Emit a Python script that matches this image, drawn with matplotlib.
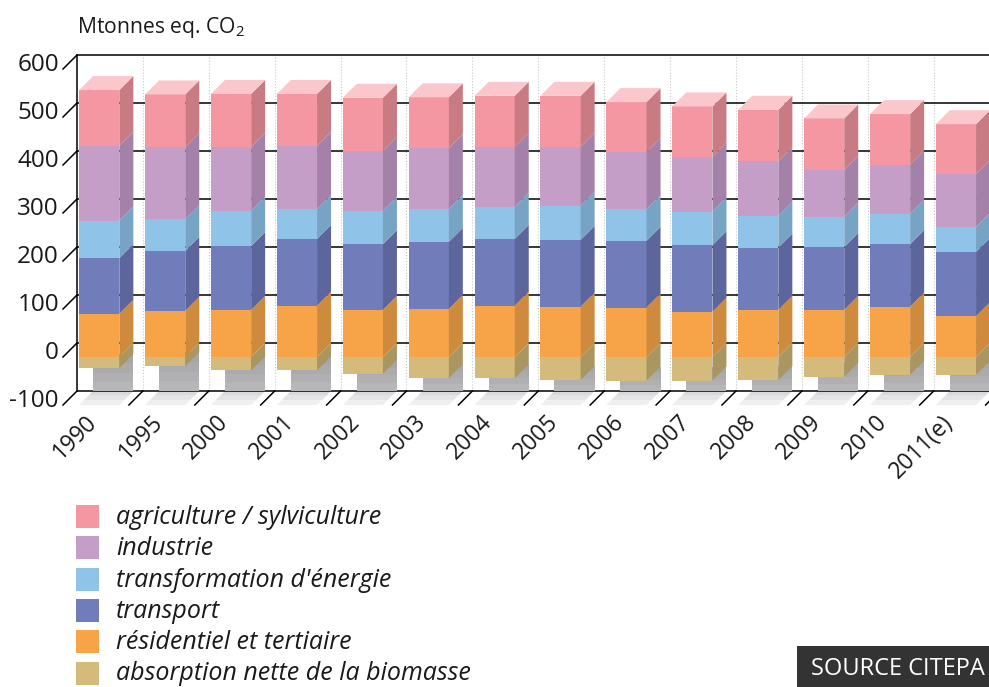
import numpy as np
import matplotlib.pyplot as plt
from matplotlib import transforms

plt.rcParams['font.family'] = ['Open Sans', 'DejaVu Sans']
plt.rcParams['mathtext.fontset'] = 'custom'
plt.rcParams['mathtext.rm'] = 'Open Sans'
plt.rcParams['mathtext.it'] = 'Open Sans:italic'

# Emissions par secteur, Mt eq. CO2
annees = ['1990', '1995', '2000', '2001', '2002', '2003', '2004',
          '2005', '2006', '2007', '2008', '2009', '2010', '2011(e)']
biomasse = [-23, -19, -28, -28, -35, -44, -44, -48, -49, -49, -48, -41, -37, -37]
residentiel = [90, 96, 98, 107, 98, 100, 107, 105, 103, 94, 98, 98, 105, 85]
transport = [116, 125, 133, 139, 137, 140, 139, 139, 139, 139, 130, 131, 130, 134]
energie = [78, 66, 74, 62, 70, 68, 67, 71, 66, 70, 66, 63, 63, 52]
industrie = [156, 150, 133, 132, 125, 127, 125, 123, 119, 114, 114, 98, 103, 110]
agriculture = [116, 110, 110, 108, 110, 106, 106, 106, 104, 105, 107, 107, 105, 104]

noms = ['agriculture / sylviculture', 'industrie', "transformation d'énergie",
        'transport', 'résidentiel et tertiaire', 'absorption nette de la biomasse']
yticks = [-100, 0, 100, 200, 300, 400, 500, 600]

# couleurs face avant / face laterale
c_face = ['#F597A2', '#C59EC8', '#8FC4E8', '#717DBA', '#F7A448', '#D4BA7B']
c_cote = ['#C97B84', '#A481A8', '#77A3C4', '#5D669C', '#CE8A3D', '#A99660']
c_dessus = '#F9C7CC'
noir = '#1A1A1A'

W, H = 989, 687
fig = plt.figure(figsize=(W / 100, H / 100), dpi=100)
ax_w, ax_h = 922.6, 336.0
ax = fig.add_axes([63 / W, (H - 405) / H, ax_w / W, ax_h / H])
ax.set_xlim(-0.5, 13.5)
ax.set_ylim(-100, 600)
ax.axis('off')

n = len(annees)
prof = 14.0  # profondeur en pixels
DX = prof / (ax_w / n)
DY = prof / (ax_h / 700.0)
x = np.arange(n) + 0.05
bw = 0.61

# mur du fond
for v in yticks:
    ax.plot([-0.5 + DX, 14.5], [v + DY, v + DY], color='k', lw=1.1,
            zorder=1.5, clip_on=False, solid_capstyle='butt')
    ax.plot([-0.5, -0.5 + DX], [v, v + DY], color='k', lw=1.1,
            zorder=1.5, clip_on=False)
ax.plot([-0.5 + DX] * 2, [-100 + DY, 600 + DY], color='k', lw=1.1,
        zorder=1.5, clip_on=False)
for b in np.arange(0.5, n):
    ax.plot([b + DX] * 2, [-100 + DY, 600 + DY], color='#C8C8C8', lw=0.8,
            ls=':', zorder=1.2, clip_on=False)
    ax.plot([b, b + DX], [-100, -100 + DY], color='k', lw=1.1,
            zorder=1.5, clip_on=False)

# ombres sur le mur et le sol
gris = ['#A6A6A9', '#ABABAE', '#B0B0B3', '#B6B6B9']
sol = ['#D9D9DB', '#E4E4E6', '#EFEFF0']
for i in range(n):
    l, r = x[i] - bw / 2, x[i] + bw / 2
    pas = np.linspace(biomasse[i] + DY, -100 + DY, len(gris) + 1)
    for k, g in enumerate(gris):
        ax.fill([l + DX, r + DX, r + DX, l + DX],
                [pas[k], pas[k], pas[k + 1], pas[k + 1]],
                color=g, lw=0, zorder=2, clip_on=False)
    for k, g in enumerate(sol):
        f0 = 1 - k / len(sol)
        f1 = 1 - (k + 1) / len(sol)
        ax.fill([l + DX * f0, r + DX * f0, r + DX * f1, l + DX * f1],
                [-100 + DY * f0, -100 + DY * f0, -100 + DY * f1, -100 + DY * f1],
                color=g, lw=0, zorder=1.4, clip_on=False)

# barres empilees
series = [agriculture, industrie, energie, transport, residentiel]
bas = np.zeros(n)
segments = []
for k in range(len(series) - 1, -1, -1):
    vals = np.array(series[k], dtype=float)
    ax.bar(x, vals, bw, bottom=bas, color=c_face[k], lw=0, zorder=3)
    segments.append((k, bas.copy(), bas + vals))
    bas = bas + vals
ax.bar(x, biomasse, bw, bottom=0, color=c_face[5], lw=0, zorder=3)
segments.append((5, np.array(biomasse, dtype=float), np.zeros(n)))

for k, y0, y1 in segments:
    for i in range(n):
        r = x[i] + bw / 2
        ax.fill([r, r + DX, r + DX, r], [y0[i], y0[i] + DY, y1[i] + DY, y1[i]],
                color=c_cote[k], lw=0, zorder=3, clip_on=False)
for i in range(n):
    l, r = x[i] - bw / 2, x[i] + bw / 2
    t = bas[i]
    ax.fill([l, l + DX, r + DX, r], [t, t + DY, t + DY, t],
            color=c_dessus, lw=0, zorder=3, clip_on=False)

# graduations
tr_y = transforms.offset_copy(ax.transData, fig, x=-4, y=4, units='dots')
for v in yticks:
    ax.text(-0.5, v, str(v), transform=tr_y, ha='right', va='center',
            fontsize=17.5, color=noir, clip_on=False)
tr_x = transforms.offset_copy(ax.transData, fig, x=-6, y=-14, units='dots')
for i in range(n):
    ax.text(x[i], -100, annees[i], transform=tr_x, rotation=45,
            rotation_mode='anchor', ha='right', va='center',
            fontsize=16.5, color=noir, clip_on=False)

fig.text(77 / W, 1 - 33 / H, 'Mtonnes eq. CO$_2$', fontsize=15.2,
         color=noir, va='baseline', ha='left')

# legende
for k, nom in enumerate(noms):
    yc = 516.5 + 31.3 * k
    fig.patches.append(plt.Rectangle((76 / W, 1 - (yc + 11.5) / H), 23 / W, 23 / H,
                                     transform=fig.transFigure, color=c_face[k], lw=0))
    fig.text(116 / W, 1 - (yc + 1) / H, nom, fontsize=18, style='italic',
             color=noir, va='center', ha='left')

# source
fig.patches.append(plt.Rectangle((797 / W, 0), 200 / W, 41 / H,
                                 transform=fig.transFigure, color='#333333', lw=0))
fig.text(811 / W, 1 - 675 / H, 'SOURCE CITEPA', fontsize=17, color='white',
         va='baseline', ha='left')

fig.savefig('out.png', dpi=100)
